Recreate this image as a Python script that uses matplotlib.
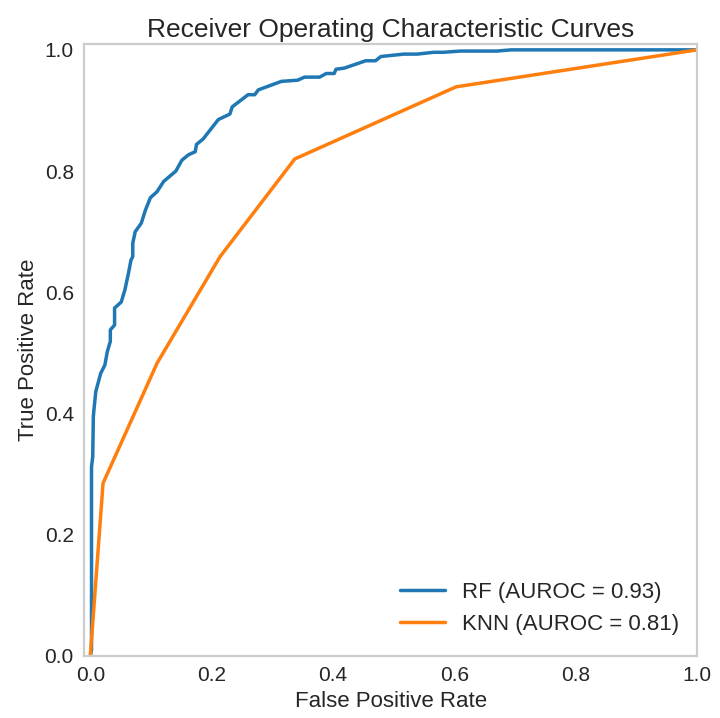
import numpy as np
import matplotlib.pyplot as plt
import seaborn as sns

sns.set_style('whitegrid')
plt.rcParams['font.family'] = ['Liberation Sans', 'DejaVu Sans']

# ROC points
rf_fpr = [0.0, 0.002, 0.002, 0.004, 0.005, 0.006, 0.009, 0.017, 0.024, 0.028, 0.033, 0.033,
          0.040, 0.040, 0.051, 0.057, 0.063, 0.067, 0.070, 0.070, 0.074, 0.084, 0.091,
          0.099, 0.110, 0.121, 0.141, 0.151, 0.162, 0.173, 0.175, 0.186, 0.211, 0.230,
          0.234, 0.260, 0.271, 0.277, 0.315, 0.342, 0.353, 0.378, 0.389, 0.402, 0.405,
          0.419, 0.454, 0.470, 0.479, 0.517, 0.539, 0.566, 0.582, 0.610, 0.670, 0.694, 1.0]
rf_tpr = [0.0, 0.01, 0.312, 0.329, 0.395, 0.406, 0.436, 0.466, 0.480, 0.502, 0.519, 0.538,
          0.546, 0.574, 0.584, 0.604, 0.632, 0.653, 0.659, 0.681, 0.700, 0.714, 0.736,
          0.756, 0.766, 0.783, 0.800, 0.818, 0.827, 0.832, 0.844, 0.853, 0.885, 0.894,
          0.906, 0.926, 0.926, 0.934, 0.948, 0.950, 0.955, 0.955, 0.961, 0.961, 0.968,
          0.970, 0.982, 0.982, 0.989, 0.993, 0.993, 0.996, 0.996, 0.998, 0.998, 1.0, 1.0]
knn_fpr = [0.0, 0.021, 0.110, 0.214, 0.337, 0.603, 1.0]
knn_tpr = [0.0, 0.285, 0.483, 0.659, 0.820, 0.939, 1.0]
rf_auc = 0.93
knn_auc = 0.81

fig = plt.figure(figsize=(7.2, 7.18), dpi=100)
ax = fig.add_subplot(111)
fig.subplots_adjust(left=0.117, right=0.968, top=0.939, bottom=0.0864)

ax.plot(rf_fpr, rf_tpr, color='#1f77b4', lw=2.5, label='RF (AUROC = %0.2f)' % rf_auc)
ax.plot(knn_fpr, knn_tpr, color='#ff7f0e', lw=2.5, label='KNN (AUROC = %0.2f)' % knn_auc)

ax.set_xlim([-0.01, 1.0])
ax.set_ylim([0.0, 1.01])
ax.grid(False)
for s in ax.spines.values():
    s.set_linewidth(1.6)
ax.tick_params(labelsize=15, pad=4)
ax.set_xlabel('False Positive Rate', fontsize=16)
ax.set_ylabel('True Positive Rate', fontsize=16)
ax.set_title('Receiver Operating Characteristic Curves', fontsize=19, pad=5)
ax.legend(loc='lower right', fontsize=16, frameon=False,
          bbox_to_anchor=(1.004, 0.002))

plt.savefig('out.png')
